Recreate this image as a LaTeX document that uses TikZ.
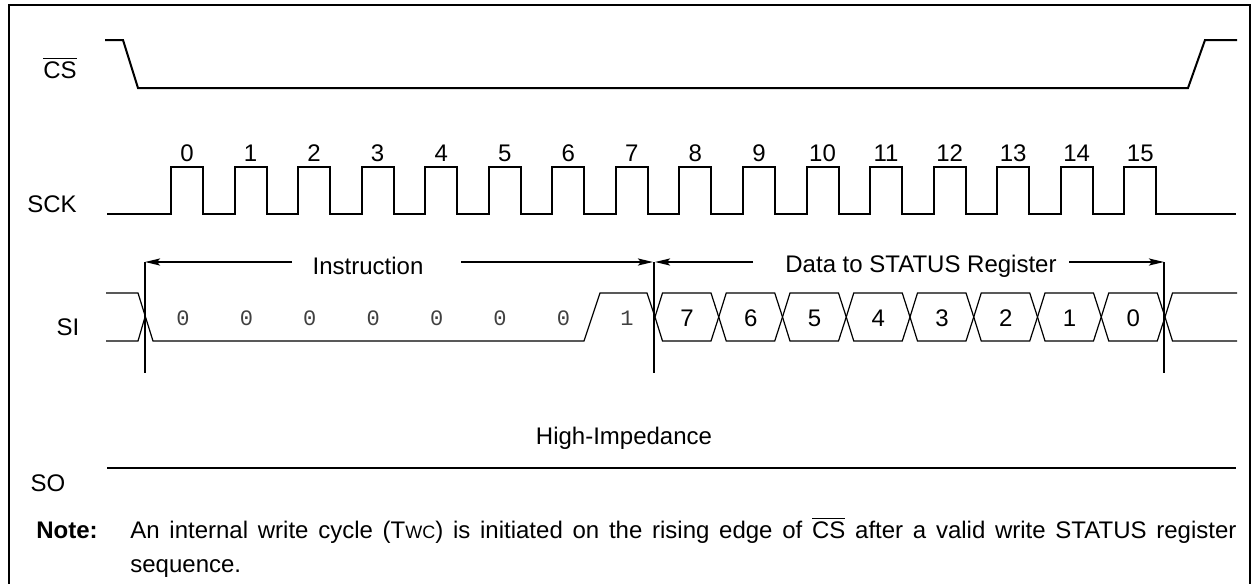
\documentclass[tikz,border=0pt]{standalone}
\usepackage{fontspec}
\setmainfont{Liberation Sans}
\newfontfamily\bitfont{Liberation Mono}
\usetikzlibrary{arrows.meta}

\begin{document}
\begin{tikzpicture}[
    x=0.5pt, y=-0.5pt,
    font=\fontsize{12}{13}\selectfont,
    frame/.style={line width=1.2pt},
    wave/.style={line width=1pt, line join=miter},
    bus/.style={line width=0.6pt},
    tick/.style={line width=1pt},
    span/.style={-{Stealth[length=7.5pt, width=3.5pt, inset=1.5pt]}, line width=1pt},
    sig/.style={inner sep=0pt},
    num/.style={inner sep=0pt, text height=8.6pt, text depth=0pt},
    bit/.style={inner sep=0pt, text height=7.5pt, text depth=0pt, font=\bitfont\fontsize{11}{13}\selectfont, text=black!75}
]
\useasboundingbox (0,0) rectangle (1255,584);

% Frame
\draw[frame] (9,600) -- (9,5) -- (1250,5) -- (1250,600);

% Signal names
\node[sig] (cs) at (60,68) {$\overline{\mbox{CS}}$};
\node[sig] (sck) at (52,204) {SCK};
\node[sig] (si) at (68,327) {SI};
\node[sig] (so) at (48,483) {SO};

% Chip select
\draw[wave] (105,40) -- (123,40) -- (138,88) -- (1188,88) -- (1205,40) -- (1237,40);

% Clock
\draw[wave] (107,214)
    \foreach \i in {0,...,15}{
        -- ({171+63.55*\i},214) -- ({171+63.55*\i},167)
        -- ({203+63.55*\i},167) -- ({203+63.55*\i},214)
    } -- (1236,214);
\foreach \i in {0,...,15}
    \node[num] (clk\i) at ({187+63.55*\i},153) {\i};

% Serial input: instruction
\draw[bus] (106,293) -- (138,293) -- (153,341) -- (584,341) -- (600,293) -- (647,293) -- (655,317);
\draw[bus] (106,341) -- (138,341) -- (145,317);
\foreach \i in {0,...,6}
    \node[bit] (ib\i) at ({183+63.4*\i},318) {0};
\node[bit] (ib7) at (627,318) {1};

% Serial input: data bits
\foreach \k [evaluate=\k as \b using int(7-\k)] in {0,...,7}{
    \draw[bus] ({655+63.75*\k},317) -- ({662.5+63.75*\k},293) -- ({711+63.75*\k},293)
        -- ({718.75+63.75*\k},317) -- ({711+63.75*\k},341) -- ({662.5+63.75*\k},341) -- cycle;
    \node[num] (db\b) at ({687+63.75*\k},318) {\b};
}
\draw[bus] (1237,293) -- (1172.5,293) -- (1165,317) -- (1172.5,341) -- (1237,341);

% Markers
\coordinate (m0t) at (145,262);
\coordinate (m0b) at (145,373);
\coordinate (m1t) at (654,262);
\coordinate (m1b) at (654,373);
\coordinate (m2t) at (1164,262);
\coordinate (m2b) at (1164,373);
\draw[tick] (m0t) -- (m0b);
\draw[tick] (m1t) -- (m1b);
\draw[tick] (m2t) -- (m2b);

% Spans
\node[sig] (instr) at (368,266) {Instruction};
\node[sig] (data) at (921,266) {Data to STATUS Register};
\coordinate (instrl) at (292,262);
\coordinate (instrr) at (461,262);
\coordinate (datal) at (753,262);
\coordinate (datar) at (1069,262);
\draw[span] (instrl) -- (m0t);
\draw[span] (instrr) -- ([xshift=-0.5pt]m1t);
\draw[span] (datal) -- ([xshift=0.5pt]m1t);
\draw[span] (datar) -- (m2t);

% Serial output
\draw[wave] (107,468) -- (1236,468);
\node[sig] (hiz) at (624,438) {High-Impedance};

% Note
\node[sig, anchor=base west] (notehead) at (36,538) {\bfseries Note:};
\node[sig, anchor=base west, text width=553pt, align=justify] (notetext) at (130,538)
    {\fontsize{12}{17}\selectfont An internal write cycle (T{\fontsize{9}{13}\selectfont WC}) is initiated on the rising edge of $\overline{\mbox{CS}}$ after a valid write STATUS register\linebreak sequence.\par};

\end{tikzpicture}
\end{document}
